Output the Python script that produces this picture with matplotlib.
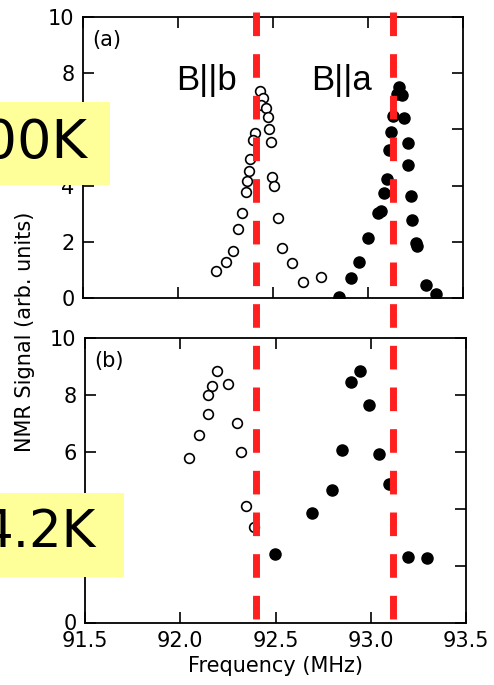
import matplotlib
matplotlib.use("Agg")
import matplotlib.pyplot as plt
from matplotlib.lines import Line2D
from matplotlib.patches import Rectangle
from matplotlib.transforms import blended_transform_factory

# (a) 300 K - open circles: B||b, filled circles: B||a
freq_b_300 = [92.432, 92.446, 92.437, 92.463, 92.472, 92.477, 92.488, 92.405, 92.396,
              92.379, 92.375, 92.365, 92.358, 92.496, 92.507, 92.335, 92.317, 92.525,
              92.291, 92.549, 92.251, 92.200, 92.602, 92.656, 92.751]
sig_b_300 = [7.38, 7.11, 6.87, 6.75, 6.43, 6.01, 5.54, 5.86, 5.62,
             4.94, 4.52, 4.17, 3.78, 4.30, 3.99, 3.04, 2.44, 2.84,
             1.68, 1.77, 1.29, 0.97, 1.23, 0.58, 0.76]
freq_a_300 = [93.165, 93.151, 93.177, 93.132, 93.189, 93.120, 93.211, 93.108, 93.212,
              93.098, 93.086, 93.225, 93.066, 93.050, 93.234, 93.002, 93.254, 93.257,
              92.954, 92.911, 93.304, 93.356, 92.848]
sig_a_300 = [7.50, 7.26, 7.22, 6.49, 6.42, 5.89, 5.53, 5.28, 4.73,
             4.22, 3.72, 3.64, 3.11, 3.01, 2.78, 2.12, 1.96, 1.85,
             1.27, 0.72, 0.46, 0.15, 0.02]

# (b) 4.2 K
freq_b_4k = [92.191, 92.168, 92.249, 92.144, 92.147, 92.296, 92.097, 92.319, 92.048,
             92.347, 92.387]
sig_b_4k = [8.84, 8.32, 8.37, 8.01, 7.32, 7.00, 6.58, 5.98, 5.77, 4.11, 3.37]
freq_a_4k = [92.944, 92.896, 92.993, 92.851, 93.043, 92.798, 93.096, 92.693, 92.497,
             93.197, 93.294]
sig_a_4k = [8.85, 8.45, 7.66, 6.07, 5.92, 4.66, 4.86, 3.85, 2.41, 2.31, 2.26]

ref_lines = [92.41, 93.13]
x_ticks = [91.5, 92.0, 92.5, 93.0, 93.5]
x_ticklabels = ['91.5', '92.0', '92.5', '93.0', '93.5']
y_ticks = [0, 2, 4, 6, 8, 10]

W, H = 494, 685
fig = plt.figure(figsize=(W / 100, H / 100), dpi=100)
ax1 = fig.add_axes([83 / W, 1 - 298 / H, 380 / W, 281 / H])
ax2 = fig.add_axes([85 / W, 1 - 622.5 / H, 381 / W, 284.5 / H])

for ax in (ax1, ax2):
    ax.set_xlim(91.5, 93.5)
    ax.set_ylim(0, 10)
    ax.set_xticks(x_ticks)
    ax.set_yticks(y_ticks)
    ax.tick_params(direction='in', length=8, width=1.2, top=True, right=True,
                   labelsize=15, pad=6, labelright=False)
    for s in ax.spines.values():
        s.set_linewidth(1.3)

ax1.tick_params(labelbottom=False)
ax2.set_xticklabels(x_ticklabels)
ax2.set_xlabel('Frequency (MHz)', fontsize=15, labelpad=4)

ax1.plot(freq_b_300, sig_b_300, 'o', mfc='white', mec='black', mew=1.2, ms=7)
ax1.plot(freq_a_300, sig_a_300, 'o', color='black', ms=8)
ax2.plot(freq_b_4k, sig_b_4k, 'o', mfc='white', mec='black', mew=1.2, ms=7)
ax2.plot(freq_a_4k, sig_a_4k, 'o', color='black', ms=8)

ax1.text(0.025, 0.955, '(a)', transform=ax1.transAxes, fontsize=15, va='top')
ax2.text(0.025, 0.955, '(b)', transform=ax2.transAxes, fontsize=15, va='top')
ax1.text(91.99, 7.4, 'B||b', fontsize=25, family='Liberation Sans')
ax1.text(92.7, 7.4, 'B||a', fontsize=25, family='Liberation Sans')

fig.text(0.05, 1 - 452 / H, 'NMR Signal (arb. units)', rotation=90,
         ha='center', va='bottom', fontsize=15, fontweight='medium')

# red dashed guide lines through both panels
tr = blended_transform_factory(ax1.transData, fig.transFigure)
for f in ref_lines:
    ln = Line2D([f, f], [1 - 12 / H, 1 - 623 / H], transform=tr, color='#ff1f1f',
                lw=5, linestyle=(0, (3.4, 2.6)), zorder=10)
    fig.add_artist(ln)

# yellow temperature boxes
fig.add_artist(Rectangle((0, 1 - 185 / H), 110 / W, 83 / H, transform=fig.transFigure,
                         facecolor='#ffff99', edgecolor='none', zorder=20))
fig.add_artist(Rectangle((0, 1 - 577 / H), 124 / W, 84 / H, transform=fig.transFigure,
                         facecolor='#ffff99', edgecolor='none', zorder=20))
fig.text(88 / W, 1 - 143 / H, '300K', fontsize=39, ha='right', va='center', zorder=21)
fig.text(96 / W, 1 - 533 / H, '4.2K', fontsize=37, ha='right', va='center', zorder=21)

fig.savefig('out.png', dpi=100)
